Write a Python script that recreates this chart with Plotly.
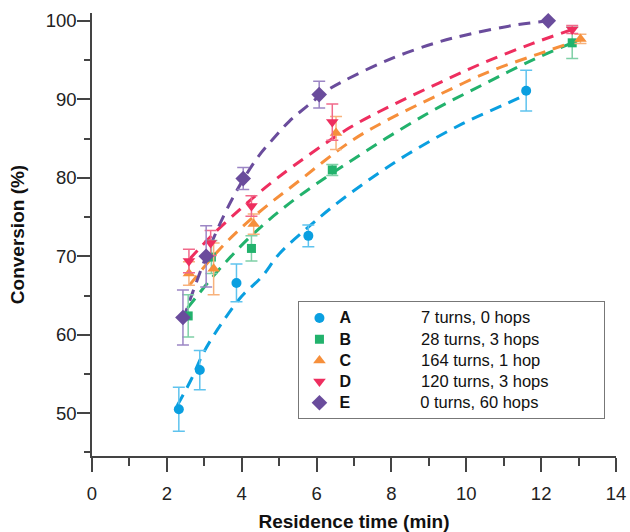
import plotly.graph_objects as go

# ---- data ----
series_names = ["A", "B", "C", "D", "E"]
series_desc = ["7 turns, 0 hops", "28 turns, 3 hops", "164 turns, 1 hop",
               "120 turns, 3 hops", "0 turns, 60 hops"]

A_x = [2.32, 2.88, 3.86, 5.78, 11.6]
A_y = [50.5, 55.5, 66.6, 72.6, 91.1]
A_err = [2.8, 2.5, 2.4, 1.4, 2.6]

B_x = [2.57, 3.19, 4.26, 6.42, 12.83]
B_y = [62.4, 69.9, 71.0, 81.0, 97.2]
B_err = [2.7, 2.1, 1.6, 0.7, 2.0]

C_x = [2.59, 3.25, 4.32, 6.52, 13.05]
C_y = [67.8, 68.4, 74.1, 85.7, 97.7]
C_err = [1.5, 3.3, 1.3, 2.1, 0.6]

D_x = [2.59, 3.17, 4.26, 6.42, 12.83]
D_y = [69.4, 71.7, 76.4, 87.1, 98.9]
D_err = [1.5, 1.6, 1.3, 2.3, 0.5]

E_x = [2.43, 3.05, 4.04, 6.07, 12.19]
E_y = [62.2, 70.0, 79.9, 90.6, 100.0]
E_err = [3.5, 3.9, 1.4, 1.7, 0.0]

# fitted trend curves
A_fit_x = [2.28, 2.65, 3.0, 3.5, 4.0, 4.54, 5.0, 5.8, 6.4, 7.3, 8.4, 9.9, 11.1, 11.6]
A_fit_y = [51.0, 54.3, 57.9, 61.7, 64.9, 67.4, 70.3, 73.8, 76.2, 79.4, 82.9, 86.9, 89.5, 90.6]

B_fit_x = [2.55, 3.43, 4.32, 5.29, 6.8, 8.93, 10.5, 11.85, 12.83]
B_fit_y = [63.4, 68.5, 72.9, 76.8, 81.8, 88.1, 92.0, 95.2, 97.2]

C_fit_x = [2.6, 3.43, 4.41, 5.45, 6.93, 7.95, 9.19, 10.6, 11.94, 13.05]
C_fit_y = [66.3, 71.0, 75.4, 79.3, 84.7, 87.5, 90.4, 93.5, 95.8, 97.6]

D_fit_x = [2.6, 3.21, 3.96, 4.49, 5.38, 6.89, 8.04, 9.28, 10.48, 11.76, 12.83]
D_fit_y = [69.6, 72.7, 76.0, 78.2, 81.5, 86.4, 89.3, 92.1, 94.7, 97.1, 98.9]

E_fit_x = [2.43, 2.69, 3.21, 3.78, 4.41, 4.83, 5.27, 5.74, 6.27, 6.71, 7.95, 9.19, 10.08, 11.23, 12.19]
E_fit_y = [61.9, 65.4, 71.9, 77.6, 82.5, 84.9, 87.2, 89.1, 91.1, 92.3, 95.1, 97.2, 98.3, 99.4, 100.0]

x_tickvals = [0, 2, 4, 6, 8, 10, 12, 14]
y_tickvals = [50, 60, 70, 80, 90, 100]

# ---- styling ----
FONT = "Liberation Sans, Arial, sans-serif"
marker_colors = ["#0a9fe0", "#22b26c", "#f68f3b", "#ee2e5f", "#6a4c9c"]
err_colors = ["#5fc3ee", "#7fd0a6", "#f8b27c", "#f16a8b", "#9c86c5"]
symbols = ["circle", "square", "triangle-up", "triangle-down", "diamond"]
sizes = [10, 9, 11, 11, 12]

xs = [A_x, B_x, C_x, D_x, E_x]
ys = [A_y, B_y, C_y, D_y, E_y]
errs = [A_err, B_err, C_err, D_err, E_err]
fit_xs = [A_fit_x, B_fit_x, C_fit_x, D_fit_x, E_fit_x]
fit_ys = [A_fit_y, B_fit_y, C_fit_y, D_fit_y, E_fit_y]

fig = go.Figure()

for i in range(5):
    fig.add_trace(go.Scatter(
        x=fit_xs[i], y=fit_ys[i], mode="lines",
        line=dict(color=marker_colors[i], width=3, dash="12px,8px", shape="spline", smoothing=1.0),
        showlegend=False, hoverinfo="skip"))

NB = "\u00a0"
for i in range(5):
    name = ('<span style="font-size:16px"><b>' + series_names[i] + '</b></span>'
            + NB * 18 + '<span style="font-size:16.5px">' + series_desc[i] + '</span>')
    if i == 3:
        name += NB * 13
    fig.add_trace(go.Scatter(
        x=xs[i], y=ys[i], mode="markers", name=name,
        marker=dict(symbol=symbols[i], size=sizes[i], color=marker_colors[i],
                    line=dict(width=0)),
        error_y=dict(type="data", array=errs[i], visible=True,
                     color=err_colors[i], thickness=1.5, width=6)))

axis_common = dict(
    showline=True, linecolor="#444", linewidth=1.5,
    ticks="outside", tickcolor="#444", tickwidth=1.5,
    showgrid=False, zeroline=False, mirror=False, automargin=False,
    tickfont=dict(family=FONT, size=18.5, color="#222"),
)

fig.update_xaxes(
    range=[0, 14], tickvals=x_tickvals, ticklen=14, ticklabelstandoff=6,
    minor=dict(dtick=1, ticklen=8, ticks="outside", tickcolor="#444", tickwidth=1.5, showgrid=False),
    title=dict(text="<b>Residence time (min)</b>", font=dict(family=FONT, size=19, color="#111"), standoff=13),
    **axis_common)
fig.update_yaxes(
    range=[44.55, 101.0], tickvals=y_tickvals, ticklen=13, ticklabelstandoff=-3,
    minor=dict(dtick=5, ticklen=6, ticks="outside", tickcolor="#444", tickwidth=1.5, showgrid=False),
    title=dict(text="<b>Conversion (%)</b>", font=dict(family=FONT, size=19, color="#111"), standoff=16),
    **axis_common)

fig.update_layout(
    width=630, height=532,
    margin=dict(l=91.5, r=13.5, t=13, b=76),
    paper_bgcolor="white", plot_bgcolor="white",
    font=dict(family=FONT, color="#111"),
    legend=dict(x=0.394, y=0.349, xanchor="left", yanchor="top",
                bgcolor="white", bordercolor="#777", borderwidth=1,
                font=dict(family=FONT, size=14, color="#111"),
                tracegroupgap=0),
)

fig.write_html("out.html", config={"displayModeBar": False},
               post_script="document.body.style.margin='0px';")
